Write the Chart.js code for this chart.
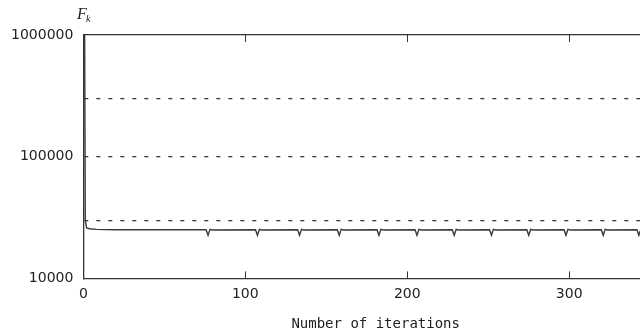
<!DOCTYPE html>
<html>
<head>
<meta charset="utf-8">
<script src="https://cdn.jsdelivr.net/npm/chart.js@4/dist/chart.umd.min.js"></script>
<style>
  html, body { margin: 0; padding: 0; background: #fff; overflow: hidden; }
  #clip { width: 640px; height: 330px; overflow: hidden; }
  #wrap { width: 668px; height: 333px; }
</style>
</head>
<body>
<div id="clip"><div id="wrap"><canvas id="fkChart"></canvas></div></div>
<script>
// --- Data ---
const iterations = [
  0, 0.8, 1.2, 2, 4, 8, 20,
  75.8, 77, 78.2, 79.5,
  106.3, 107.5, 108.7, 110,
  132.3, 133.5, 134.7, 136,
  156.8, 158, 159.2, 160.5,
  181.3, 182.5, 183.7, 185,
  204.8, 206, 207.2, 208.5,
  227.8, 229, 230.2, 231.5,
  250.8, 252, 253.2, 254.5,
  273.8, 275, 276.2, 277.5,
  296.8, 298, 299.2, 300.5,
  319.8, 321, 322.2, 323.5,
  341.8, 343, 344.2, 345.5,
  361
];
const fValues = [
  1000000, 1000000, 30000, 26000, 25600, 25300, 25100,
  25100, 22600, 25300, 25000,
  25100, 22600, 25300, 25000,
  25100, 22600, 25300, 25000,
  25100, 22600, 25300, 25000,
  25100, 22600, 25300, 25000,
  25100, 22600, 25300, 25000,
  25100, 22600, 25300, 25000,
  25100, 22600, 25300, 25000,
  25100, 22600, 25300, 25000,
  25100, 22600, 25300, 25000,
  25100, 22600, 25300, 25000,
  25100, 22600, 25300, 25000,
  25000
];
const yTicks = [10000, 30000, 100000, 300000, 1000000];
const yLabelled = [10000, 100000, 1000000];
const xTicks = [0, 100, 200, 300];

const points = iterations.map((x, i) => ({ x: x, y: fValues[i] }));

// inward tick marks on top and bottom edges + the F_k label
const extras = {
  id: 'extras',
  afterDraw(chart) {
    const ctx = chart.ctx;
    const area = chart.chartArea;
    const xs = chart.scales.x;
    ctx.save();
    ctx.strokeStyle = '#333';
    ctx.lineWidth = 1;
    xTicks.slice(1).forEach(v => {
      const px = Math.round(xs.getPixelForValue(v)) + 0.5;
      ctx.beginPath();
      ctx.moveTo(px, area.top);
      ctx.lineTo(px, area.top + 7);
      ctx.moveTo(px, area.bottom);
      ctx.lineTo(px, area.bottom - 7);
      ctx.stroke();
    });
    ctx.fillStyle = '#222';
    ctx.font = 'italic 16px "Liberation Serif", serif';
    ctx.textBaseline = 'alphabetic';
    ctx.fillText('F', 77, 19);
    ctx.font = 'italic 10px "Liberation Serif", serif';
    ctx.fillText('k', 86, 22);
    ctx.restore();
  }
};

new Chart(document.getElementById('fkChart').getContext('2d'), {
  type: 'line',
  data: {
    datasets: [{
      data: points,
      borderColor: '#3a3a3a',
      borderWidth: 1.4,
      pointRadius: 0,
      tension: 0,
      fill: false
    }]
  },
  options: {
    responsive: true,
    maintainAspectRatio: false,
    animation: false,
    layout: { padding: { top: 35, right: 0, left: 1, bottom: 0 } },
    plugins: { legend: { display: false }, tooltip: { enabled: false } },
    scales: {
      x: {
        type: 'linear',
        min: 0,
        max: 361,
        afterBuildTicks: s => { s.ticks = xTicks.map(v => ({ value: v })); },
        grid: { display: false, drawTicks: false },
        border: { display: true, color: '#333', width: 1.3 },
        ticks: {
          color: '#222',
          padding: 8,
          maxRotation: 0,
          font: { family: '"DejaVu Sans"', size: 14 }
        },
        title: {
          display: true,
          text: 'Number of iterations',
          color: '#222',
          padding: { top: 5, bottom: 0 },
          font: { family: '"DejaVu Sans Mono"', size: 14 }
        }
      },
      xTop: {
        type: 'linear',
        position: 'top',
        min: 0,
        max: 361,
        grid: { display: false, drawTicks: false },
        border: { display: true, color: '#333', width: 1.3 },
        ticks: { display: false }
      },
      y: {
        type: 'logarithmic',
        min: 10000,
        max: 1000000,
        afterBuildTicks: s => { s.ticks = yTicks.map(v => ({ value: v })); },
        grid: {
          drawTicks: false,
          color: c => (c.tick && (c.tick.value === 30000 || c.tick.value === 100000 || c.tick.value === 300000)) ? '#333' : 'rgba(0,0,0,0)',
          lineWidth: 1.2
        },
        border: { display: true, color: '#333', width: 1.3, dash: [4, 8] },
        ticks: {
          color: '#222',
          padding: 10,
          font: { family: '"DejaVu Sans"', size: 14 },
          callback: v => yLabelled.includes(v) ? String(v) : ''
        }
      }
    }
  },
  plugins: [extras]
});
</script>
</body>
</html>
